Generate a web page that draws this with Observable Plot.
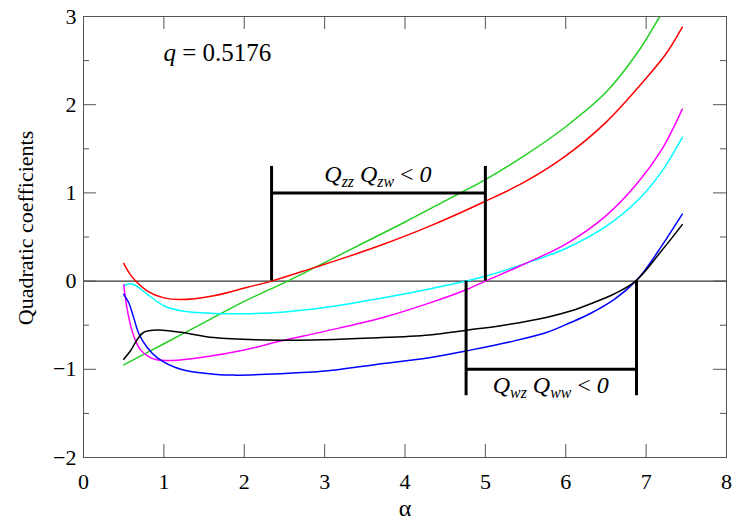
<!DOCTYPE html>
<html>
<head>
<meta charset="utf-8">
<script src="https://cdn.jsdelivr.net/npm/d3@7"></script>
<script src="https://cdn.jsdelivr.net/npm/@observablehq/plot@0.6"></script>
<style>
  html, body { margin: 0; padding: 0; background: #fff; }
  #chart svg { display: block; }
</style>
</head>
<body>
<div id="chart"></div>
<script>
// ---- data (α, value) ----
const green = [[0.5,-0.95],[1.0,-0.71],[1.5,-0.47],[2.0,-0.23],[2.54,0],[3.0,0.21],[3.5,0.44],[4.0,0.67],[4.5,0.91],[5.0,1.15],[5.5,1.43],[6.0,1.75],[6.5,2.14],[6.9,2.6],[7.17,3.0],[7.45,3.45]];
const red = [[0.5,0.2],[0.57,0.09],[0.65,0],[0.79,-0.11],[1.0,-0.19],[1.2,-0.21],[1.62,-0.166],[2.04,-0.07],[2.34,0],[2.86,0.15],[3.3,0.28],[3.74,0.42],[4.3,0.62],[5.0,0.905],[5.5,1.13],[6.0,1.42],[6.5,1.8],[7.0,2.3],[7.25,2.58],[7.45,2.88]];
const cyan = [[0.5,-0.05],[0.58,-0.03],[0.65,-0.05],[0.79,-0.147],[1.0,-0.28],[1.21,-0.336],[1.62,-0.366],[2.0,-0.37],[2.5,-0.35],[3.0,-0.3],[3.7,-0.195],[4.3,-0.09],[4.76,0],[5.0,0.055],[5.5,0.2],[6.0,0.37],[6.5,0.62],[6.9,0.92],[7.2,1.25],[7.45,1.63]];
const magenta = [[0.5,-0.04],[0.54,-0.3],[0.6,-0.55],[0.65,-0.68],[0.71,-0.78],[0.8,-0.85],[0.9,-0.89],[1.1,-0.9],[1.5,-0.86],[2.0,-0.78],[2.45,-0.68],[3.0,-0.57],[3.74,-0.41],[4.3,-0.25],[4.73,-0.11],[5.0,0],[5.5,0.2],[6.0,0.42],[6.5,0.74],[6.9,1.12],[7.2,1.5],[7.45,1.95]];
const blue = [[0.5,-0.15],[0.56,-0.24],[0.62,-0.4],[0.69,-0.6],[0.79,-0.75],[0.92,-0.87],[1.21,-1.0],[1.62,-1.055],[1.87,-1.066],[2.45,-1.05],[3.0,-1.02],[3.6,-0.95],[4.3,-0.87],[4.77,-0.79],[5.3,-0.69],[5.77,-0.58],[6.06,-0.47],[6.3,-0.37],[6.6,-0.21],[6.87,0],[7.01,0.155],[7.18,0.38],[7.45,0.76]];
const black = [[0.5,-0.885],[0.585,-0.79],[0.67,-0.66],[0.75,-0.58],[0.92,-0.555],[1.21,-0.58],[1.62,-0.64],[2.45,-0.67],[3.0,-0.665],[3.57,-0.646],[4.3,-0.61],[4.77,-0.556],[5.19,-0.506],[5.77,-0.41],[6.06,-0.34],[6.3,-0.26],[6.6,-0.146],[6.87,0],[7.18,0.33],[7.45,0.64]];

const seriesNames = ["s1","s2","s3","s4","s5","s6"];
const seriesColors = ["#22d022","#ff0000","#00ffff","#ff00ff","#0000ff","#000000"];
const seriesData = [green, red, cyan, magenta, blue, black];

// axes ticks
const xTicks = [0,1,2,3,4,5,6,7,8];
const yTicks = [-2,-1,0,1,2,3];
const yMinorTicks = [-1.5,-0.5,0.5,1.5,2.5];

// bracket annotations
const bracket1 = {x0: 2.34, x1: 5.0, bar: 1, end: 1.3};
const bracket2 = {x0: 4.76, x1: 6.88, bar: -1, end: -1.3};
const label1 = [["Q",""],["zz","sub"],[" Q",""],["zw","sub"],[" ","up"],["<","up"],[" 0",""]];
const label2 = [["Q",""],["wz","sub"],[" Q",""],["ww","sub"],[" ","up"],["<","up"],[" 0",""]];
const qLabel = {x: 1.0, y: 2.49, name: "q", value: " = 0.5176"};
const xLabel = "α";
const yLabel = "Quadratic coefficients";

const FONT = "'Liberation Serif', 'Times New Roman', 'DejaVu Serif', serif";
const W = 747, H = 523, mL = 83, mR = 21, mT = 16, mB = 66;
const plotW = W - mL - mR, plotH = H - mT - mB;
const axisGrey = "#555";

const curveRows = seriesData.flatMap((s, i) => s.map(([a, v]) => ({a, v, name: seriesNames[i]})));

const chart = Plot.plot({
  width: W, height: H,
  marginLeft: mL, marginRight: mR, marginTop: mT, marginBottom: mB,
  x: {domain: [0, 8]},
  y: {domain: [-2, 3]},
  color: {domain: seriesNames, range: seriesColors},
  style: {fontFamily: FONT, fontSize: "22px", background: "#fff", color: "#000"},
  marks: [
    Plot.ruleY([0], {stroke: "#000", strokeWidth: 1}),
    Plot.line(curveRows, {x: "a", y: "v", z: "name", stroke: "name", strokeWidth: 1.5, curve: "catmull-rom", clip: true}),
    // bracket 1
    Plot.ruleX([bracket1.x0, bracket1.x1], {y1: 0, y2: bracket1.end, stroke: "#000", strokeWidth: 3}),
    Plot.ruleY([bracket1.bar], {x1: bracket1.x0, x2: bracket1.x1, stroke: "#000", strokeWidth: 3}),
    // bracket 2
    Plot.ruleX([bracket2.x0, bracket2.x1], {y1: 0, y2: bracket2.end, stroke: "#000", strokeWidth: 3}),
    Plot.ruleY([bracket2.bar], {x1: bracket2.x0, x2: bracket2.x1, stroke: "#000", strokeWidth: 3}),
    // inward ticks
    Plot.tickX(xTicks, {insetTop: plotH - 13, stroke: axisGrey}),
    Plot.tickX(xTicks, {insetBottom: plotH - 13, stroke: axisGrey}),
    Plot.tickY(yTicks, {insetRight: plotW - 13, stroke: axisGrey}),
    Plot.tickY(yMinorTicks, {insetRight: plotW - 6, stroke: axisGrey}),
    Plot.tickY(yTicks, {insetLeft: plotW - 13, stroke: axisGrey}),
    Plot.tickY(yMinorTicks, {insetLeft: plotW - 6, stroke: axisGrey}),
    Plot.frame({stroke: axisGrey}),
    Plot.axisX({ticks: xTicks, tickSize: 0, tickPadding: 16, label: null, fontSize: 22, tickFormat: d3.format("d")}),
    Plot.axisY({ticks: yTicks, tickSize: 0, tickPadding: 7, label: null, fontSize: 22, tickFormat: d3.format("d")}),
    Plot.text([yLabel], {frameAnchor: "left", text: d => d, rotate: -90, textAnchor: "middle", dx: -58, dy: -9, fontSize: 22, lineAnchor: "middle"}),
    Plot.text([xLabel], {frameAnchor: "bottom", text: d => d, textAnchor: "middle", dy: 51, fontSize: 24, lineAnchor: "middle"})
  ]
});

document.getElementById("chart").appendChild(chart);

// rich text labels placed through the plot's scales
const sx = chart.scale("x"), sy = chart.scale("y");
const svg = d3.select(chart);

function richLabel(parts, x, y, dyPx, size) {
  const t = svg.append("text")
    .attr("x", sx.apply(x)).attr("y", sy.apply(y) + dyPx)
    .attr("text-anchor", "middle")
    .attr("font-family", FONT)
    .attr("font-size", size)
    .attr("font-style", "italic")
    .attr("fill", "#000")
    .style("white-space", "pre");
  let shifted = false;
  parts.forEach(([s, kind]) => {
    const ts = t.append("tspan").text(s);
    if (kind === "sub") {
      ts.attr("font-size", size * 0.66).attr("dy", shifted ? 0 : 5);
      shifted = true;
    } else {
      if (shifted) { ts.attr("dy", -5); shifted = false; }
      if (kind === "up") ts.attr("font-style", "normal");
    }
  });
}

richLabel(label1, (bracket1.x0 + bracket1.x1) / 2, bracket1.bar, -10, 24);
richLabel(label2, (bracket2.x0 + bracket2.x1) / 2, bracket2.bar, 24, 24);

const q = svg.append("text")
  .attr("x", sx.apply(qLabel.x)).attr("y", sy.apply(qLabel.y))
  .attr("text-anchor", "start")
  .attr("font-family", FONT).attr("font-size", 25).attr("fill", "#000")
  .style("white-space", "pre");
q.append("tspan").attr("font-style", "italic").text(qLabel.name);
q.append("tspan").text(qLabel.value);
</script>
</body>
</html>
